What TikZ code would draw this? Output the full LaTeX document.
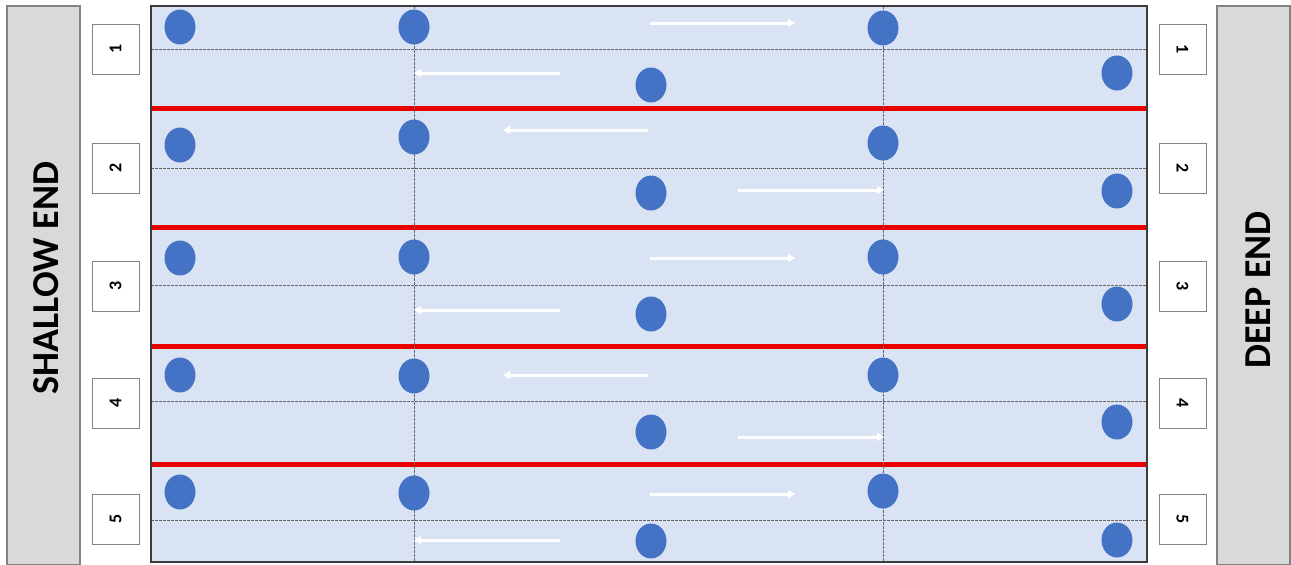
\documentclass[tikz,border=0pt]{standalone}
\usepackage{fontspec}
\setmainfont{Carlito}
\usetikzlibrary{shapes.geometric,arrows.meta}
\definecolor{water}{RGB}{218,227,243}
\definecolor{dotblue}{RGB}{68,114,196}
\definecolor{ropered}{RGB}{235,0,0}
\definecolor{wallgray}{RGB}{217,217,217}
\definecolor{edgegray}{RGB}{130,130,130}
\definecolor{poolline}{RGB}{60,60,60}

\begin{document}
\begin{tikzpicture}[x=1pt,y=-1pt,
  swimmer/.style={ellipse,fill=dotblue,draw=none,minimum width=31pt,minimum height=35pt,inner sep=0},
  lanebox/.style={draw=edgegray,fill=white,line width=1pt,minimum width=47pt,minimum height=50pt,
    inner sep=0,font=\fontsize{18}{18}\selectfont\bfseries},
  wall/.style={fill=wallgray,draw=edgegray,line width=1.2pt},
  endtext/.style={rotate=90,inner sep=0,font=\fontsize{38}{40}\selectfont\bfseries},
  guide/.style={gray!80!black,line width=0.8pt,dash pattern=on 2.5pt off 1.5pt},
  rope/.style={ropered,line width=5pt},
  swim/.style={white,line width=3pt,-{Triangle[length=7pt,width=8pt]}}]
  \useasboundingbox (0,0) rectangle (1291,565);

  % --- Murs du bassin ---
  \draw[wall] (7,6) rectangle (80,565);
  \draw[wall] (1217,6) rectangle (1290,565);
  \node[endtext] (shallow) at (46,278) {SHALLOW END};
  \node[endtext] (deep) at (1258,290) {DEEP END};

  % --- Eau ---
  \fill[water] (151,6) rectangle (1147,562);

  % --- Lignes de couloir (lignes pointillées horizontales) ---
  \foreach \yy in {49,168,285,401,520}{%
    \draw[guide] (151,\yy) -- (1147,\yy);
  }

  % --- Cordes rouges ---
  \foreach \yy in {108,227,346,464}{%
    \draw[rope] (151,\yy) -- (1147,\yy);
  }

  % --- Repères verticaux ---
  \foreach \xx in {414,883}{%
    \draw[guide] (\xx,6) -- (\xx,562);
  }

  % --- Numéros de couloir ---
  \foreach \n/\yy in {1/49,2/168,3/286,4/403,5/519}{%
    \node[lanebox] (gauche\n) at (115.5,\yy) {\rotatebox{90}{\n}};
    \node[lanebox] (droite\n) at (1182.5,\yy) {\rotatebox{-90}{\n}};
  }

  % --- Nageurs ---
  \foreach \n/\ya/\yb/\yc/\yd/\ye in {1/27/27/28/85/73,2/145/137/143/193/191,
      3/258/257/257/314/304,4/375/376/375/432/422,5/492/493/491/541/540}{%
    \node[swimmer] (n\n a) at (180,\ya) {};
    \node[swimmer] (n\n b) at (414,\yb) {};
    \node[swimmer] (n\n c) at (883,\yc) {};
    \node[swimmer] (n\n d) at (651,\yd) {};
    \node[swimmer] (n\n e) at (1117,\ye) {};
  }

  % --- Sens de nage (couloirs impairs) ---
  \foreach \n/\yt/\yb in {1/23/73,3/258/310,5/494/540}{%
    \coordinate (h\n s) at (650,\yt);
    \coordinate (h\n e) at (795,\yt);
    \coordinate (b\n s) at (560,\yb);
    \coordinate (b\n e) at (414,\yb);
    \draw[swim] (h\n s) -- (h\n e);
    \draw[swim] (b\n s) -- (b\n e);
  }
  % --- Sens de nage (couloirs pairs) ---
  \foreach \n/\yt/\yb in {2/130/190,4/375/437}{%
    \coordinate (h\n s) at (648,\yt);
    \coordinate (h\n e) at (503,\yt);
    \coordinate (b\n s) at (738,\yb);
    \coordinate (b\n e) at (884,\yb);
    \draw[swim] (h\n s) -- (h\n e);
    \draw[swim] (b\n s) -- (b\n e);
  }

  % --- Bord du bassin ---
  \draw[poolline,line width=1.5pt] (151,6) rectangle (1147,562);
\end{tikzpicture}
\end{document}
